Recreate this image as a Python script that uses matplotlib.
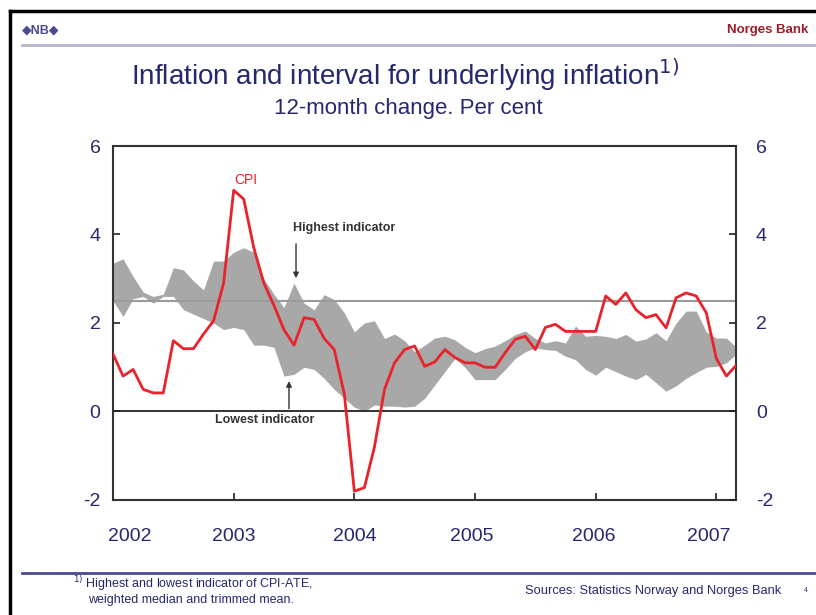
import matplotlib
matplotlib.use("Agg")
import matplotlib.pyplot as plt
from matplotlib.lines import Line2D
import numpy as np

plt.rcParams['font.family'] = ['Liberation Sans', 'DejaVu Sans']

# Monthly data, Jan 2002 - Mar 2007 (month index 0..62)
cpi = [1.3, 0.8, 0.95, 0.5, 0.42, 0.42, 1.6, 1.42, 1.42, 1.75,
       2.05, 2.9, 5.0, 4.8, 3.7, 2.9, 2.4, 1.85, 1.5, 2.12,
       2.08, 1.65, 1.4, 0.4, -1.8, -1.72, -0.8, 0.5, 1.1, 1.4,
       1.48, 1.02, 1.12, 1.4, 1.22, 1.1, 1.1, 1.0, 1.0, 1.33,
       1.63, 1.7, 1.4, 1.9, 1.97, 1.81, 1.81, 1.81, 1.81, 2.61,
       2.42, 2.68, 2.3, 2.12, 2.19, 1.89, 2.57, 2.68, 2.61, 2.23,
       1.2, 0.8, 1.05]
highest = [3.35, 3.45, 3.05, 2.7, 2.6, 2.65, 3.25, 3.2, 2.95, 2.75,
           3.4, 3.4, 3.6, 3.7, 3.6, 3.0, 2.65, 2.35, 2.9, 2.45,
           2.3, 2.64, 2.53, 2.23, 1.8, 2.0, 2.05, 1.65, 1.75, 1.6,
           1.35, 1.5, 1.66, 1.7, 1.62, 1.45, 1.33, 1.42, 1.48, 1.6,
           1.74, 1.82, 1.65, 1.55, 1.6, 1.55, 1.93, 1.7, 1.72, 1.7,
           1.65, 1.74, 1.59, 1.64, 1.78, 1.6, 2.0, 2.27, 2.27, 1.8,
           1.66, 1.66, 1.45]
lowest = [2.5, 2.15, 2.55, 2.6, 2.45, 2.6, 2.6, 2.3, 2.2, 2.1,
          2.0, 1.85, 1.9, 1.85, 1.5, 1.5, 1.45, 0.8, 0.84, 1.0,
          0.95, 0.75, 0.5, 0.3, 0.1, 0.0, 0.15, 0.12, 0.12, 0.1,
          0.12, 0.3, 0.6, 0.9, 1.2, 1.0, 0.72, 0.72, 0.72, 0.95,
          1.2, 1.35, 1.44, 1.4, 1.38, 1.25, 1.17, 0.95, 0.82, 1.0,
          0.9, 0.8, 0.72, 0.84, 0.65, 0.46, 0.58, 0.75, 0.88, 1.0,
          1.02, 1.1, 1.3]
year_labels = ['2002', '2003', '2004', '2005', '2006', '2007']
year_label_pos = [1.7, 12, 24, 35.7, 47.8, 59.2]
year_ticks = [12, 24, 36, 48, 60]
target = 2.5
yticks = [-2, 0, 2, 4, 6]

months = np.arange(len(cpi))
navy = '#26286e'

fig = plt.figure(figsize=(8.16, 6.15), dpi=100)
ax = fig.add_axes([0.1385, 0.187, 0.764, 0.5756])

ax.fill_between(months, lowest, highest, color='#a8a8a8', lw=0, zorder=1)
ax.axhline(target, color='#9a9a9a', lw=1.5, zorder=2)
ax.axhline(0, color='#222222', lw=1.3, zorder=2)
ax.plot(months, cpi, color='#e8232b', lw=2.0, zorder=3)

ax.set_xlim(0, 62)
ax.set_ylim(-2, 6)
ax.set_yticks(yticks)
ax.set_yticklabels([str(v) for v in yticks])
ax.tick_params(axis='y', which='both', direction='in', left=True, right=False,
               labelleft=True, labelright=False, labelsize=14, labelcolor=navy,
               length=5, width=1.2, pad=9, color='#222222')

ax2 = ax.twinx()
ax2.set_ylim(-2, 6)
ax2.set_yticks(yticks)
ax2.set_yticklabels([str(v) for v in yticks])
ax2.tick_params(axis='y', direction='in', labelsize=14, labelcolor=navy,
                length=5, width=1.2, pad=14, color='#222222')
for s in ax2.spines.values():
    s.set_visible(False)

ax.xaxis.remove_overlapping_locs = False
ax.set_xticks(year_ticks)
ax.set_xticklabels([''] * len(year_ticks))
ax.tick_params(axis='x', which='major', direction='in', length=5, width=1.2,
               color='#222222')
ax.set_xticks(year_label_pos, minor=True)
ax.set_xticklabels(year_labels, minor=True)
ax.tick_params(axis='x', which='minor', length=0, labelsize=14,
               labelcolor=navy, pad=20)
for s in ax.spines.values():
    s.set_color('#333333')
    s.set_linewidth(1.5)

# annotations
ax.text(13.2, 5.24, 'CPI', color='#e8232b', fontsize=10, ha='center', va='center')
ax.text(23.0, 4.02, 'Highest indicator', color='#333333', fontsize=9,
        fontweight='bold', ha='center', va='bottom')
ax.annotate('', xy=(18.2, 2.95), xytext=(18.2, 3.85),
            arrowprops=dict(arrowstyle='-|>', color='#333333', lw=1.0,
                            mutation_scale=8))
ax.text(15.1, -0.05, 'Lowest indicator', color='#333333', fontsize=9,
        fontweight='bold', ha='center', va='top')
ax.annotate('', xy=(17.5, 0.75), xytext=(17.5, 0.0),
            arrowprops=dict(arrowstyle='-|>', color='#333333', lw=1.0,
                            mutation_scale=8))

# titles
fig.text(0.497, 0.878, 'Inflation and interval for underlying inflation$^{1)}$',
         ha='center', va='center', fontsize=20, color=navy)
fig.text(0.5, 0.824, '12-month change. Per cent', ha='center', va='center',
         fontsize=16, color=navy)

# frame / header / footer decorations
fig.add_artist(Line2D([10/816, 1.0], [1 - 11/615, 1 - 11/615], color='black', lw=2.5))
fig.add_artist(Line2D([10/816, 10/816], [0, 1 - 11/615], color='black', lw=2.5))
fig.add_artist(Line2D([22/816, 1.0], [1 - 45/615, 1 - 45/615], color='#b4b4cc', lw=2))
fig.add_artist(Line2D([22/816, 1.0], [1 - 573/615, 1 - 573/615], color='#4a4a8e', lw=2))
fig.text(22/816, 1 - 30/615, '◆NB◆', fontsize=9, fontweight='bold', color='#4a4a90',
         ha='left', va='center')
fig.text(808/816, 1 - 30/615, 'Norges Bank', fontsize=9.5, fontweight='bold',
         color='#a01a2a', ha='right', va='center')
fig.text(73/816, 1 - 584/615, '$^{1)}$ Highest and lowest indicator of CPI-ATE,',
         fontsize=9, color=navy, ha='left', va='center')
fig.text(88/816, 1 - 600/615, 'weighted median and trimmed mean.',
         fontsize=9, color=navy, ha='left', va='center')
fig.text(525/816, 1 - 591/615, 'Sources: Statistics Norway and Norges Bank',
         fontsize=9.3, color=navy, ha='left', va='center')
fig.text(806/816, 1 - 591/615, '4', fontsize=5, color=navy, ha='center', va='center')

fig.savefig('out.png', dpi=100)
